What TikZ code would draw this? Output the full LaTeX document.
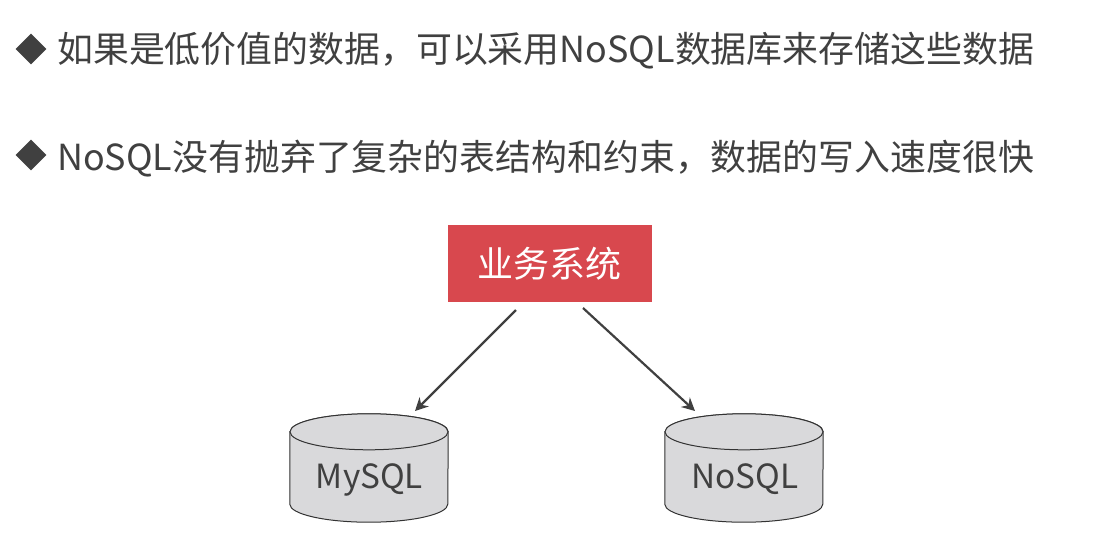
\documentclass[tikz,border=0pt]{standalone}
\usepackage{fontspec}
\setmainfont{Noto Sans CJK SC}
\usetikzlibrary{arrows.meta, positioning, shapes.geometric}
\definecolor{textgray}{RGB}{64, 64, 64}
\definecolor{boxred}{RGB}{216, 72, 78}
\definecolor{dbgray}{RGB}{217, 217, 219}

\begin{document}
\begin{tikzpicture}[
    x=1pt, y=-1pt,
    line/.style={font=\fontsize{35.9pt}{38pt}\selectfont, text=textgray, anchor=west, inner sep=0pt},
    bullet/.style={diamond, fill=textgray, minimum size=31pt, inner sep=0pt},
    sysbox/.style={rectangle, fill=boxred, minimum width=204pt, minimum height=77pt, text=white, font=\fontsize{36pt}{40pt}\selectfont},
    db/.style={rectangle, minimum width=158pt, minimum height=108pt, inner sep=0pt},
    dbline/.style={draw=black!80, fill=dbgray, line width=1pt},
    dblabel/.style={text=textgray, font=\fontsize{33.3pt}{36pt}\selectfont},
    arrow/.style={-{Stealth[length=13pt, width=13pt]}, line width=2.2pt, textgray}
]
\useasboundingbox (0,0) rectangle (1104,539);

% Bullet lines
\node[bullet] (b1) at (31,49) {};
\node[bullet] (b2) at (31,155) {};
\node[line] (t1) at (57,51) {如果是低价值的数据，可以采用NoSQL数据库来存储这些数据};
\node[line] (t2) at (57,159) {NoSQL没有抛弃了复杂的表结构和约束，数据的写入速度很快};

% Boxes
\node[sysbox] (sys) at (549.5,263.5) {\raisebox{-1pt}{业务系统}};
\node[db] (mysql) at (369,468) {};
\node[db] (nosql) at (744,468) {};

% Cylinders
\foreach \n in {mysql,nosql} {
    \draw[dbline] ([yshift=-18pt]\n.north west) -- ([yshift=18pt]\n.south west)
        arc[start angle=180, end angle=360, x radius=79pt, y radius=18pt]
        -- ([yshift=-18pt]\n.north east)
        arc[start angle=0, end angle=180, x radius=79pt, y radius=18pt] -- cycle;
    \draw[dbline] ([yshift=-18pt]\n.north) ellipse [x radius=79pt, y radius=18pt];
}
\node[dblabel] (mysqllabel) at (369.5,479.5) {MySQL};
\node[dblabel] (nosqllabel) at (745,479.5) {NoSQL};

% Arrows
\coordinate (la) at (516,310);
\coordinate (lb) at (415,411);
\coordinate (ra) at (583,308);
\coordinate (rb) at (695,411);
\draw[arrow] (la) -- (lb);
\draw[arrow] (ra) -- (rb);

\end{tikzpicture}
\end{document}
